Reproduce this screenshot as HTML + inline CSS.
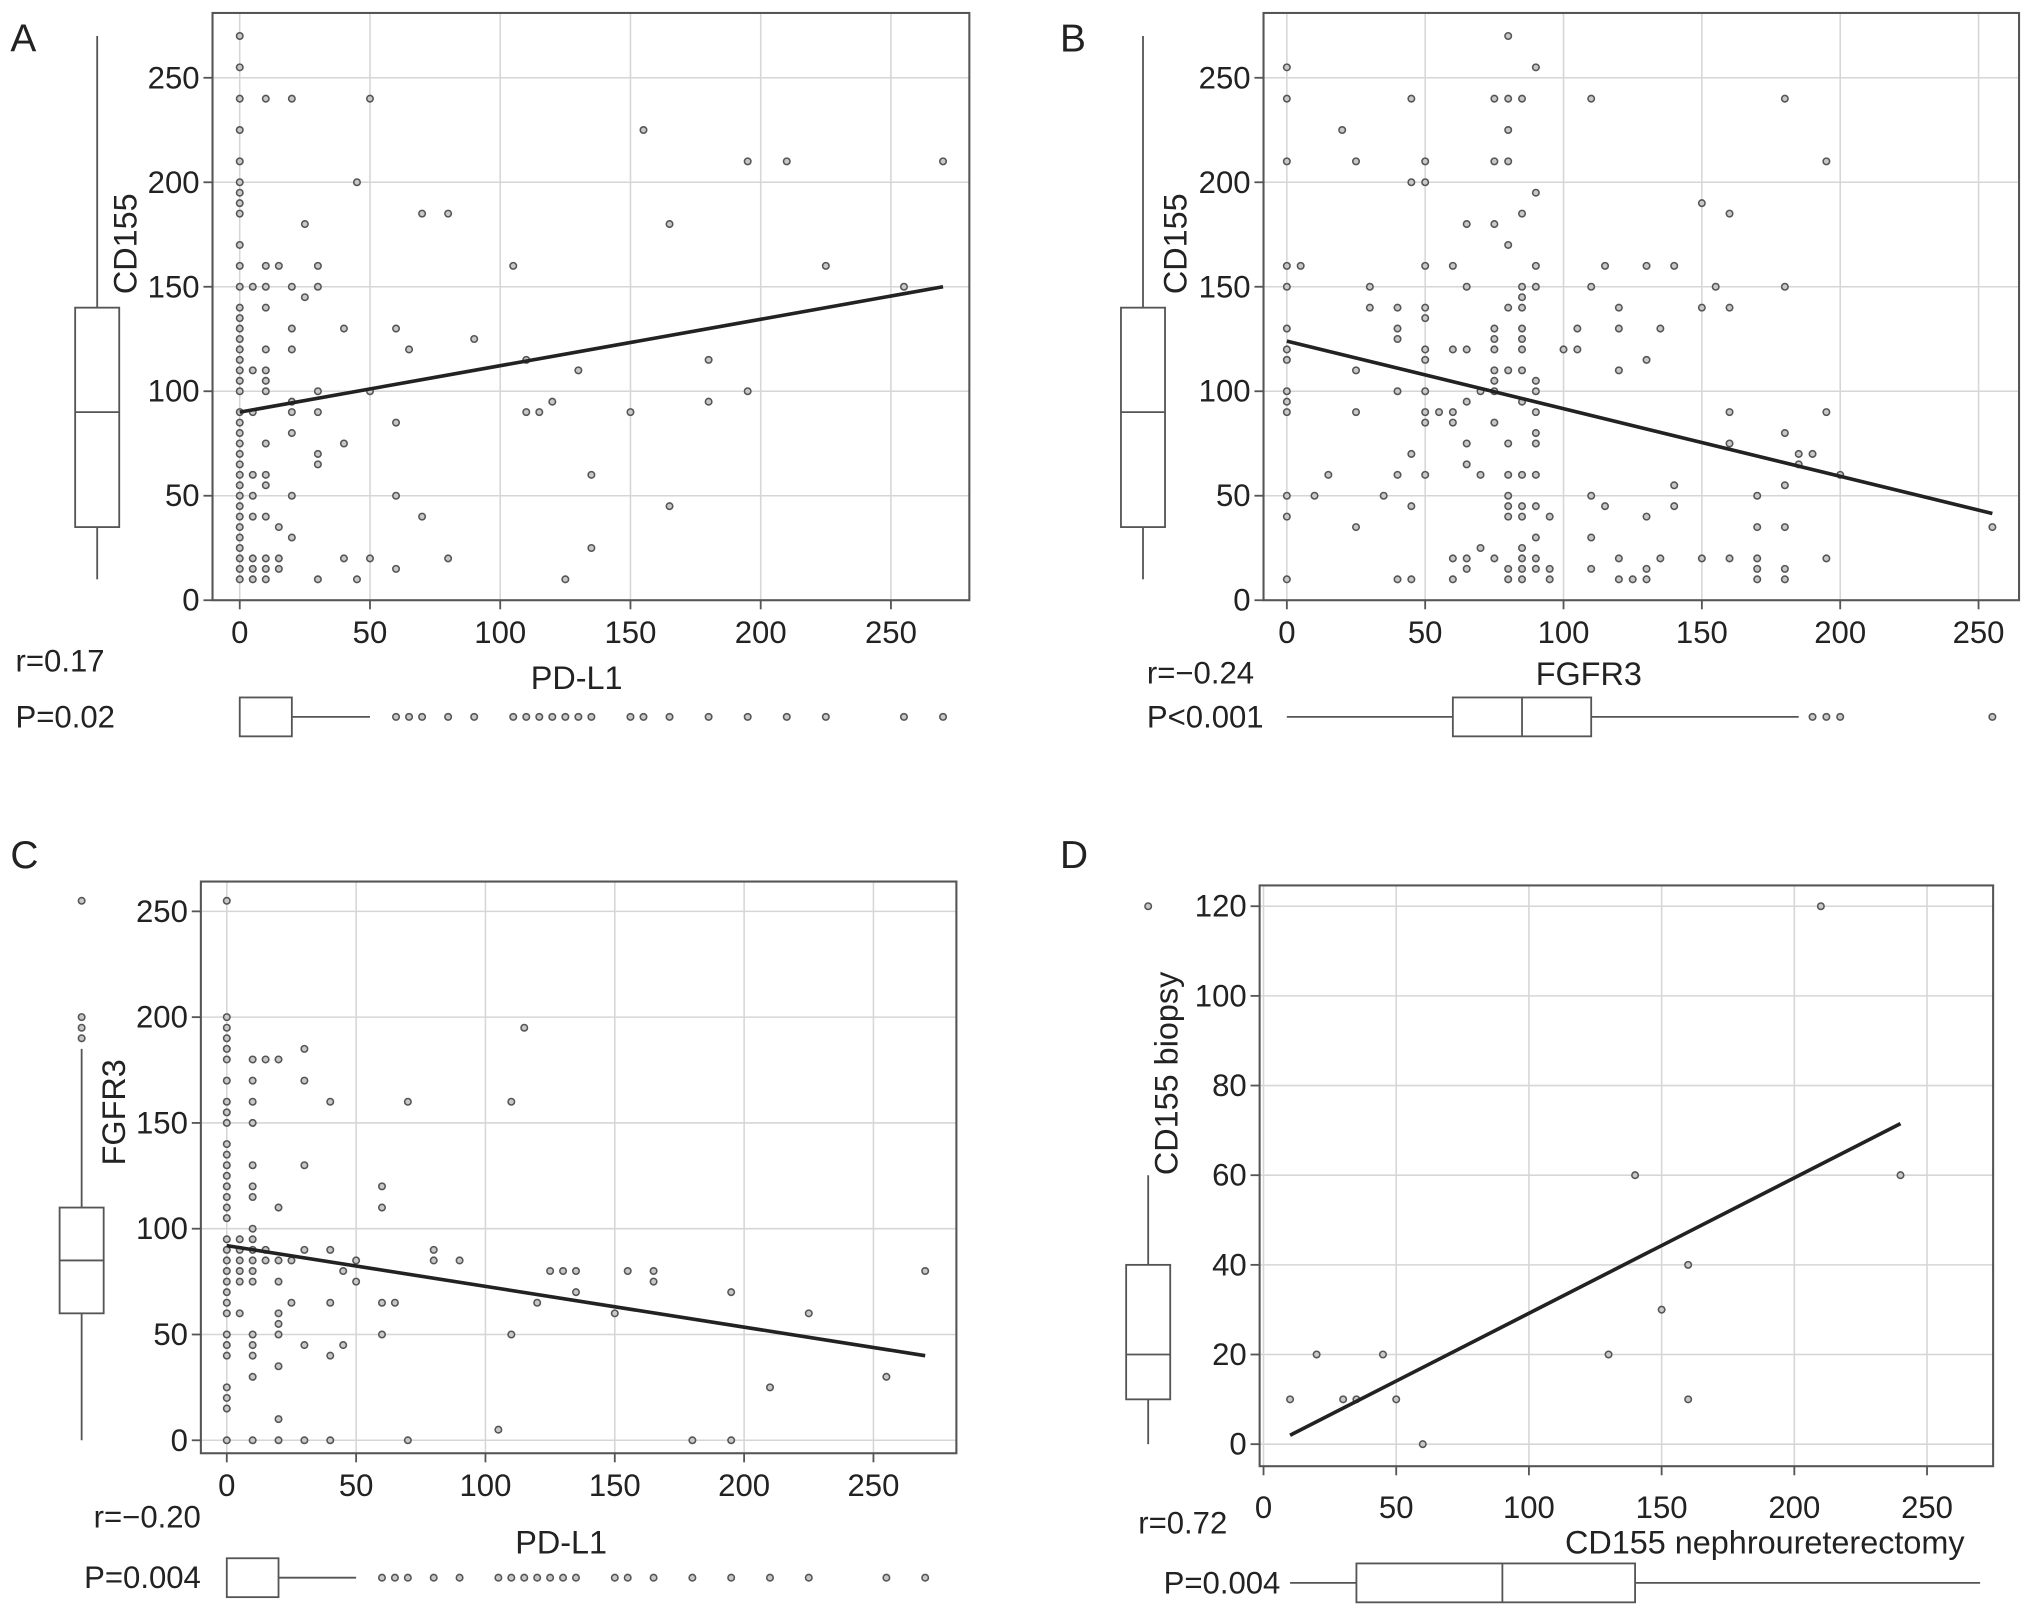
<!DOCTYPE html>
<html><head><meta charset="utf-8"><style>
html,body{margin:0;padding:0;background:#fff;}
svg{display:block;}
text{font-family:"Liberation Sans",Arial,sans-serif;fill:#222;}
</style></head><body>
<svg id="fig" width="2032" height="1614" viewBox="0 0 1568 1245" preserveAspectRatio="none" xmlns="http://www.w3.org/2000/svg"></svg>
<script>
// ---- Panel A data: PD-L1 (x) vs CD155 (y) ----
const aX0 = [270,255,240,225,210,200,195,190,185,170,160,150,140,135,130,125,120,115,110,105,100,90,85,80,75,70,65,60,55,50,45,40,35,30,25,20,15,10];
const aPts = [
 [5,150],[5,110],[5,90],[5,60],[5,50],[5,40],[5,20],[5,15],[5,10],
 [10,240],[10,160],[10,150],[10,140],[10,120],[10,110],[10,105],[10,100],[10,75],[10,60],[10,55],[10,40],[10,20],[10,15],[10,10],
 [15,160],[15,35],[15,20],[15,15],
 [20,240],[20,150],[20,130],[20,120],[20,95],[20,90],[20,80],[20,50],[20,30],
 [25,180],[25,145],[30,160],[30,150],[30,100],[30,90],[30,70],[30,65],[30,10],
 [40,130],[40,75],[40,20],[45,200],[45,10],[50,240],[50,100],[50,20],
 [60,130],[60,85],[60,50],[60,15],[65,120],[70,185],[70,40],[80,185],[80,20],[90,125],
 [105,160],[110,115],[110,90],[115,90],[120,95],[125,10],[130,110],[135,60],[135,25],
 [150,90],[155,225],[165,180],[165,45],[180,115],[180,95],[195,210],[195,100],[210,210],[225,160],[255,150],[270,210]
];
const aFit = [[0,90],[270,150]];
const pdl1Outliers = [60,65,70,80,90,105,110,115,120,125,130,135,150,155,165,180,195,210,225,255,270];
const pdl1Box = [0,0,0,20,50]; // min, q1, median, q3, whisker max
const cd155Box = [10,35,90,140,270];

// ---- Panel B data: FGFR3 (x) vs CD155 (y) ----
const bCols = {
 0:[255,240,210,160,150,130,120,115,100,95,90,50,40,10],5:[160],10:[50],15:[60],20:[225],25:[210,110,90,35],30:[150,140],35:[50],
 40:[140,130,125,100,60,10],45:[240,200,70,45,10],50:[210,200,160,140,135,120,115,100,90,85,60],55:[90],
 60:[160,120,90,85,20,10],65:[180,150,120,95,75,65,20,15],70:[100,60,25],
 75:[240,210,180,130,125,120,110,105,100,85,20],80:[270,240,225,210,170,140,110,75,60,50,45,40,15,10],
 85:[240,185,150,145,140,130,125,120,110,95,60,45,40,25,20,15,10],90:[255,195,160,150,105,100,90,80,75,60,45,30,20,15],
 95:[40,15,10],100:[120],105:[130,120],110:[240,150,50,30,15],115:[160,45],120:[140,130,110,20,10],125:[10],
 130:[160,115,40,15,10],135:[130,20],140:[160,55,45],150:[190,140,20],155:[150],160:[185,140,90,75,20],
 170:[50,35,20,15,10],180:[240,150,80,55,35,15,10],185:[70,65],190:[70],195:[210,90,20],200:[60],255:[35]
};
const bFit = [[0,124],[255,41.5]];
const fgfr3BoxH = [0,60,85,110,185];
const fgfr3OutH = [190,195,200,255];

// ---- Panel C data: PD-L1 (x) vs FGFR3 (y) ----
const cCols = {
 0:[255,200,195,190,185,180,170,160,155,150,140,135,130,125,120,115,110,105,95,90,85,80,75,70,65,60,50,45,40,25,20,15,0],
 5:[95,90,85,80,75,60],10:[180,170,160,150,130,120,115,100,95,90,85,80,75,50,45,40,30,0],15:[180,90,85],
 20:[180,110,85,75,60,55,50,35,10,0],25:[85,65],30:[185,170,130,90,45,0],40:[160,90,65,40,0],45:[80,45],50:[85,75],
 60:[120,110,65,50],65:[65],70:[160,0],80:[90,85],90:[85],105:[5],110:[160,50],115:[195],120:[65],125:[80],130:[80],
 135:[80,70],150:[60],155:[80],165:[80,75],180:[0],195:[70,0],210:[25],225:[60],255:[30],270:[80]
};
const cFit = [[0,92],[270,40]];
const fgfr3BoxV = [0,60,85,110,185];
const fgfr3OutV = [190,195,200,255];

// ---- Panel D data: CD155 nephroureterectomy (x) vs CD155 biopsy (y) ----
const dX = [10,20,30,35,45,50,60,130,140,150,160,160,210,240];
const dY = [10,20,10,10,20,10,0,20,60,30,40,10,120,60];
const dFit = [[10,2],[240,71.5]];
const biopsyBox = [0,10,20,40,60];
const biopsyOut = [120];
const nephBox = [10,35,90,140,270];

const ticks250 = [0,50,100,150,200,250];
const ticks120 = [0,20,40,60,80,100,120];

const svg = document.getElementById('fig');
const NS = 'http://www.w3.org/2000/svg';
function el(tag, attrs, parent){
  const e = document.createElementNS(NS, tag);
  for (const k in attrs) e.setAttribute(k, attrs[k]);
  (parent||svg).appendChild(e);
  return e;
}
function txt(s, x, y, size, anchor, parent, rot){
  const t = el('text', {x:x, y:y, 'font-size':size, 'text-anchor':anchor||'start', 'dominant-baseline':'central'}, parent);
  if (rot) t.setAttribute('transform', 'rotate(-90 '+x+' '+y+')');
  t.textContent = s;
  return t;
}
function dot(x,y,g){
  const c = el('circle',{cx:x,cy:y,r:2.5,fill:'#c8c8c8',stroke:'#555','stroke-width':1.2},g);
  
  
  return c;
}

function panel(cfg){
  const g = el('g',{});
  
  
  const sx = v => cfg.x0 + v*cfg.kx;
  const sy = v => cfg.y0 - v*cfg.ky;
  const grid = el('g',{},g);
  
  
  cfg.xt.forEach(v=>el('line',{x1:sx(v),x2:sx(v),y1:cfg.top,y2:cfg.bot,stroke:'#d6d6d6','stroke-width':1.2},grid));
  cfg.yt.forEach(v=>el('line',{x1:cfg.left,x2:cfg.right,y1:sy(v),y2:sy(v),stroke:'#d6d6d6','stroke-width':1.2},grid));
  const fr = el('rect',{x:cfg.left,y:cfg.top,width:cfg.right-cfg.left,height:cfg.bot-cfg.top,fill:'none',stroke:'#555','stroke-width':1.6},g);
  
  
  const xa = el('g',{},g);
  
  
  cfg.xt.forEach(v=>{
    el('line',{x1:sx(v),x2:sx(v),y1:cfg.bot,y2:cfg.bot+7,stroke:'#555','stroke-width':1.4},xa);
    txt(String(v), sx(v), cfg.tickY, 24, 'middle', xa);
  });
  const ya = el('g',{},g);
  
  
  cfg.yt.forEach(v=>{
    el('line',{x1:cfg.left-7,x2:cfg.left,y1:sy(v),y2:sy(v),stroke:'#555','stroke-width':1.4},ya);
    txt(String(v), cfg.left-10, sy(v), 24, 'end', ya);
  });
  const pts = el('g',{},g);
  
  
  cfg.points.forEach(p=>dot(sx(p[0]), sy(p[1]), pts));
  const fl = el('line',{x1:sx(cfg.fit[0][0]),y1:sy(cfg.fit[0][1]),x2:sx(cfg.fit[1][0]),y2:sy(cfg.fit[1][1]),stroke:'#222','stroke-width':2.8},g);
  
  
  const vb = el('g',{},g);
  
  
  const b = cfg.vbox, cx = cfg.vbx, hw = 17;
  el('line',{x1:cx,x2:cx,y1:sy(b[0]),y2:sy(b[1]),stroke:'#555','stroke-width':1.4},vb);
  el('line',{x1:cx,x2:cx,y1:sy(b[3]),y2:sy(b[4]),stroke:'#555','stroke-width':1.4},vb);
  el('rect',{x:cx-hw,y:sy(b[3]),width:2*hw,height:sy(b[1])-sy(b[3]),fill:'#fff',stroke:'#555','stroke-width':1.4},vb);
  el('line',{x1:cx-hw,x2:cx+hw,y1:sy(b[2]),y2:sy(b[2]),stroke:'#555','stroke-width':1.4},vb);
  (cfg.vout||[]).forEach(v=>dot(cx, sy(v), vb));
  const hb = el('g',{},g);
  
  
  const h = cfg.hbox, cy = cfg.hby, hh = 15;
  if (h[1] > h[0]) el('line',{x1:sx(h[0]),x2:sx(h[1]),y1:cy,y2:cy,stroke:'#555','stroke-width':1.4},hb);
  el('line',{x1:sx(h[3]),x2:sx(h[4]),y1:cy,y2:cy,stroke:'#555','stroke-width':1.4},hb);
  el('rect',{x:sx(h[1]),y:cy-hh,width:sx(h[3])-sx(h[1]),height:2*hh,fill:'#fff',stroke:'#555','stroke-width':1.4},hb);
  if (h[2] > h[1]) el('line',{x1:sx(h[2]),x2:sx(h[2]),y1:cy-hh,y2:cy+hh,stroke:'#555','stroke-width':1.4},hb);
  (cfg.hout||[]).forEach(v=>dot(sx(v), cy, hb));
  const xl = txt(cfg.xlabel, cfg.xlx, cfg.xly, 25, cfg.xla||'middle', g);
  
  
  const yl = txt(cfg.ylabel, cfg.ylx, cfg.yly, 25, 'middle', g, true);
  
  
  const rl = txt(cfg.r, cfg.rx, cfg.ry, 24, cfg.ra||'start', g);
  
  
  const pl = txt(cfg.p, cfg.px, cfg.py, 24, cfg.pa||'start', g);
  
  
  const lt = txt(cfg.letter, cfg.lx, cfg.ly, 30, 'start', g);
  
  
}

const aAll = aX0.map(v=>[0,v]).concat(aPts);
const bAll = []; for (const k in bCols) bCols[k].forEach(v=>bAll.push([+k,v]));
const cAll = []; for (const k in cCols) cCols[k].forEach(v=>cAll.push([+k,v]));
const dAll = dX.map((x,i)=>[x,dY[i]]);

panel({name:'panel-a', letter:'A', lx:8, ly:30,
  left:164, right:748, top:10, bot:463, x0:185, kx:2.01, y0:463, ky:1.612,
  xt:ticks250, yt:ticks250, tickY:488, points:aAll, fit:aFit,
  vbox:cd155Box, vbx:75, hbox:pdl1Box, hby:553, hout:pdl1Outliers,
  xlabel:'PD-L1', xlx:445, xly:523, ylabel:'CD155', ylx:97, yly:188,
  r:'r=0.17', rx:12, ry:510, p:'P=0.02', px:12, py:553});

panel({name:'panel-b', letter:'B', lx:818, ly:30,
  left:975, right:1558, top:10, bot:463, x0:993, kx:2.135, y0:463, ky:1.612,
  xt:ticks250, yt:ticks250, tickY:488, points:bAll, fit:bFit,
  vbox:cd155Box, vbx:882, hbox:fgfr3BoxH, hby:553, hout:fgfr3OutH,
  xlabel:'FGFR3', xlx:1226, xly:520, ylabel:'CD155', ylx:907, yly:188,
  r:'r=\u22120.24', rx:885, ry:519, p:'P<0.001', px:885, py:553});

panel({name:'panel-c', letter:'C', lx:8, ly:660,
  left:155, right:738, top:680, bot:1121, x0:175, kx:1.996, y0:1111, ky:1.632,
  xt:ticks250, yt:ticks250, tickY:1146, points:cAll, fit:cFit,
  vbox:fgfr3BoxV, vbx:63, vout:fgfr3OutV, hbox:pdl1Box, hby:1217, hout:pdl1Outliers,
  xlabel:'PD-L1', xlx:433, xly:1190, ylabel:'FGFR3', ylx:88, yly:858,
  r:'r=\u22120.20', rx:155, ry:1170, ra:'end', p:'P=0.004', px:155, py:1217, pa:'end'});

panel({name:'panel-d', letter:'D', lx:818, ly:660,
  left:972, right:1538, top:683, bot:1131, x0:975, kx:2.048, y0:1114, ky:3.458,
  xt:ticks250, yt:ticks120, tickY:1163, points:dAll, fit:dFit,
  vbox:biopsyBox, vbx:886, vout:biopsyOut, hbox:nephBox, hby:1221,
  xlabel:'CD155 nephroureterectomy', xlx:1516, xly:1190, xla:'end', ylabel:'CD155 biopsy', ylx:900, yly:828,
  r:'r=0.72', rx:947, ry:1175, ra:'end', p:'P=0.004', px:988, py:1221, pa:'end'});
</script>
</body></html>
